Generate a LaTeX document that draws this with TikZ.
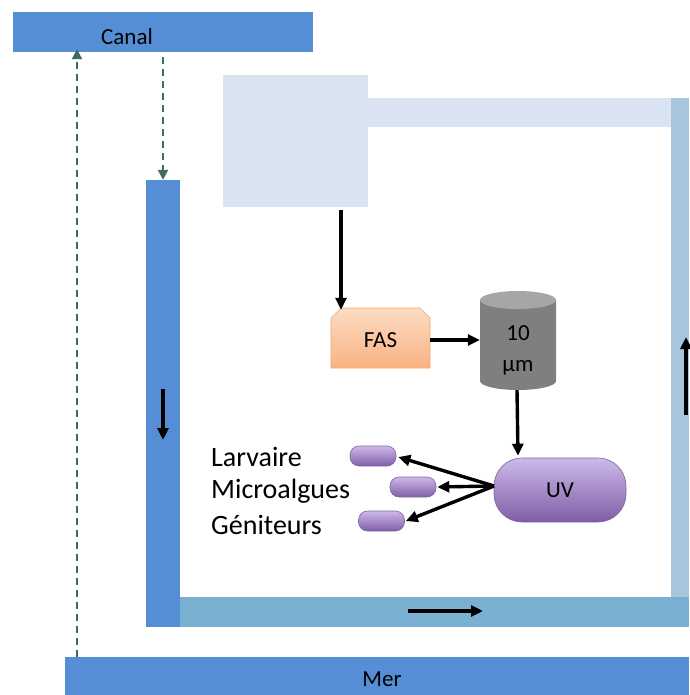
\documentclass[tikz,border=0pt]{standalone}
\usepackage{fontspec}
\setmainfont{Carlito}
\usetikzlibrary{arrows.meta}
\definecolor{cblue}{HTML}{558ED5}
\definecolor{cbot}{HTML}{7AB1D2}
\definecolor{cright}{HTML}{A7C5DB}
\definecolor{clight}{HTML}{DAE3F2}
\definecolor{cdash}{HTML}{3E6B5C}
\definecolor{orTop}{HTML}{FCDCC3}
\definecolor{orBot}{HTML}{F9B283}
\definecolor{orLine}{HTML}{F5A766}
\definecolor{puTop}{HTML}{CDB9E9}
\definecolor{puBot}{HTML}{7E5EA6}
\definecolor{puLine}{HTML}{8064A2}
\definecolor{cylBody}{HTML}{7F7F7F}
\definecolor{cylTop}{HTML}{A6A6A6}
\tikzset{
  bar/.style={rectangle, inner sep=0pt, draw=none},
  txt/.style={font=\fontsize{23}{26}\selectfont, text=black},
  lbl/.style={font=\fontsize{28}{32}\selectfont, text=black, anchor=west, inner sep=0pt},
  flow/.style={-{Triangle[length=12pt,width=11pt]}, line width=3.4pt, black},
  dashflow/.style={-{Triangle[length=10pt,width=10pt]}, line width=2pt, cdash, dash pattern=on 7pt off 5pt},
  pill/.style={rectangle, rounded corners=9pt, minimum width=46pt, minimum height=20pt, inner sep=0pt,
    top color=puTop, bottom color=puBot, draw=puLine, line width=0.6pt},
}
\begin{document}
\begin{tikzpicture}[x=1pt,y=-1pt]
\useasboundingbox (0,0) rectangle (689,695);

% bars
\node[bar, fill=clight, minimum width=145pt, minimum height=132pt] (lightbox) at (295.5,141) {};
\node[bar, fill=clight, minimum width=303pt, minimum height=29pt] (topbar) at (519.5,112.5) {};
\node[bar, fill=cright, minimum width=18pt, minimum height=499pt] (rightbar) at (680,347.5) {};
\node[bar, fill=cbot, minimum width=509pt, minimum height=30pt] (botbar) at (434.5,612) {};
\node[bar, fill=cblue, minimum width=34pt, minimum height=447pt] (leftbar) at (163,403.5) {};
\node[bar, fill=cblue, minimum width=300pt, minimum height=40pt] (canal) at (163,32) {};
\node[txt] (canaltxt) at (127,37) {Canal};
\node[bar, fill=cblue, minimum width=624pt, minimum height=38pt] (mer) at (377,676) {};
\node[txt] (mertxt) at (382,679) {Mer};

% dashed arrows
\coordinate (upx) at (77,0);
\draw[dashflow] (mer.north -| upx) -- ([yshift=3pt]canal.south -| upx);
\draw[dashflow, shorten <=5pt] (canal.south) -- (leftbar.north);

% flow arrows inside bars
\coordinate (la1) at (163,389); \coordinate (la2) at (163,440);
\draw[flow] (la1) -- (la2);
\coordinate (ra1) at (686,415); \coordinate (ra2) at (686,337);
\draw[flow] (ra1) -- (ra2);
\coordinate (ba1) at (408,611); \coordinate (ba2) at (483,611);
\draw[flow] (ba1) -- (ba2);

% FAS
\path[top color=orTop, bottom color=orBot, draw=orLine, line width=0.6pt]
  (331,368) -- (331,318) -- (341,308) -- (420,308) -- (430,318) -- (430,368) -- cycle;
\node[txt, minimum width=99pt, minimum height=60pt, inner sep=0pt] (fas) at (380.5,340) {FAS};

% cylinder
\fill[cylBody] (480,300) -- (480,381) arc[start angle=180, end angle=0, x radius=38, y radius=9] -- (556,300) -- cycle;
\fill[cylTop] (518,300) ellipse [x radius=38, y radius=9];
\node[txt, align=center, minimum width=76pt, minimum height=98pt, inner sep=0pt] (cyl) at (518,341) {};
\node[txt, align=center, inner sep=0pt] (cyltxt) at (518,350) {10\\[5pt]µm};

% UV
\node[txt, rectangle, rounded corners=28pt, minimum width=132pt, minimum height=64pt,
  top color=puTop, bottom color=puBot, draw=puLine, line width=0.6pt] (uv) at (560,490) {UV};

% pills
\node[pill] (p1) at (373,456) {};
\node[pill] (p2) at (413,487) {};
\node[pill] (p3) at (381.5,521) {};

% labels
\node[lbl] (l1) at (211,457) {Larvaire};
\node[lbl] (l2) at (211,491) {Microalgues};
\node[lbl] (l3) at (211,525) {Géniteurs};

% process arrows
\coordinate (fasx) at (341,0);
\draw[flow] ([yshift=-3pt]lightbox.south -| fasx) -- (fas.north -| fasx);
\draw[flow] (fas.east) -- (fas.east -| cyl.west);
\draw[flow] ([xshift=-1pt]cyl.south) -- ([yshift=2pt]uv.north -| cyl.south);
\coordinate (uvs) at (494,486);
\draw[flow] (uvs) -- ([xshift=2pt,yshift=-1pt]p1.east);
\draw[flow] (uvs) -- ([xshift=1pt]p2.east);
\draw[flow] (uvs) -- ([xshift=1pt]p3.east);
\end{tikzpicture}
\end{document}
